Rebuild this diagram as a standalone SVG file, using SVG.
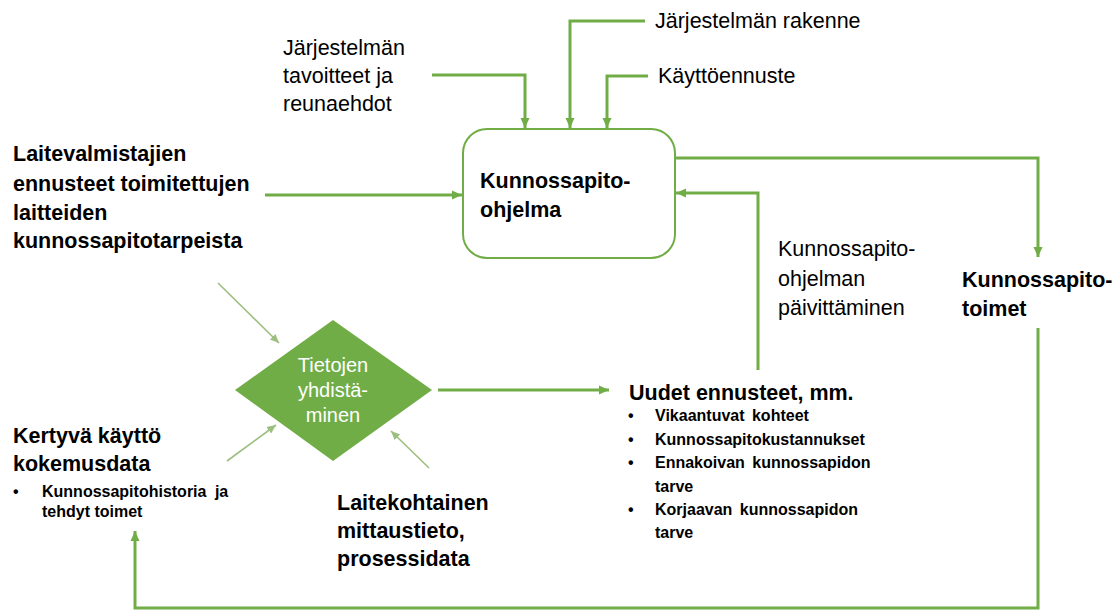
<svg xmlns="http://www.w3.org/2000/svg" width="1116" height="610" viewBox="0 0 1116 610">
<style>
text{font-family:"Liberation Sans",Arial,sans-serif;fill:#000}
.r{font-size:21.5px}
.b{font-size:21.5px;font-weight:bold}
.s{font-size:16px;font-weight:bold}
.w{font-size:20px;fill:#fff}
.main{fill:none;stroke:#70AD47;stroke-width:3}
.thin{fill:none;stroke:#9CBF80;stroke-width:1.6}
</style>
<defs>
<marker id="ah" markerUnits="userSpaceOnUse" markerWidth="12" markerHeight="12" viewBox="0 0 12 12" refX="10" refY="6" orient="auto">
<path d="M0,1.5 L10,6 L0,10.5 Z" fill="#70AD47"/>
</marker>
<marker id="ahs" markerUnits="userSpaceOnUse" markerWidth="10" markerHeight="10" viewBox="0 0 10 10" refX="9" refY="5" orient="auto">
<path d="M0,1 L9,5 L0,9 Z" fill="#9CBF80"/>
</marker>
</defs>
<rect width="1116" height="610" fill="#fff"/>
<g id="connectors">
<path class="main" d="M432,75 H525 V128" marker-end="url(#ah)"/>
<path class="main" d="M645,21 H570 V128" marker-end="url(#ah)"/>
<path class="main" d="M648,76 H607 V128" marker-end="url(#ah)"/>
<path class="main" d="M265,195 H462" marker-end="url(#ah)"/>
<path class="main" d="M675,158 H1038 V257" marker-end="url(#ah)"/>
<path class="main" d="M758,370 V193 H676" marker-end="url(#ah)"/>
<path class="main" d="M1038,328 V608 H135 V531" marker-end="url(#ah)"/>
<path class="main" d="M438,390 H609" marker-end="url(#ah)"/>
<path class="thin" d="M218,283 L279,343" marker-end="url(#ahs)"/>
<path class="thin" d="M227,461 L276,425" marker-end="url(#ahs)"/>
<path class="thin" d="M429,468 L391,431" marker-end="url(#ahs)"/>
</g>
<g id="rakenne"><text class="r" x="655" y="28">Järjestelmän rakenne</text></g>
<g id="kayttoennuste"><text class="r" x="658" y="83">Käyttöennuste</text></g>
<g id="tavoitteet">
<text class="r" x="283" y="55">Järjestelmän</text>
<text class="r" x="283" y="83">tavoitteet ja</text>
<text class="r" x="283" y="111">reunaehdot</text>
</g>
<g id="laitevalmistajat">
<text class="b" x="13" y="161">Laitevalmistajien</text>
<text class="b" x="13" y="191">ennusteet toimitettujen</text>
<text class="b" x="13" y="220">laitteiden</text>
<text class="b" x="13" y="248">kunnossapitotarpeista</text>
</g>
<g id="ohjelma">
<rect x="463" y="129" width="212" height="129" rx="24" fill="#fff" stroke="#70AD47" stroke-width="2"/>
<text class="b" x="480" y="188">Kunnossapito-</text>
<text class="b" x="480" y="217">ohjelma</text>
</g>
<g id="paivittaminen">
<text class="r" x="778" y="256">Kunnossapito-</text>
<text class="r" x="778" y="286">ohjelman</text>
<text class="r" x="778" y="315">päivittäminen</text>
</g>
<g id="toimet">
<text class="b" x="962" y="287">Kunnossapito-</text>
<text class="b" x="962" y="316">toimet</text>
</g>
<g id="yhdistaminen">
<polygon points="333,320 432,390 333,461 235,390" fill="#70AD47"/>
<text class="w" x="333" y="372" text-anchor="middle">Tietojen</text>
<text class="w" x="333" y="397" text-anchor="middle">yhdistä-</text>
<text class="w" x="333" y="422" text-anchor="middle">minen</text>
</g>
<g id="uudet">
<text class="b" x="629" y="400">Uudet ennusteet, mm.</text>
<text class="s" x="628" y="421">•</text><text class="s" x="655" y="421" word-spacing="3">Vikaantuvat kohteet</text>
<text class="s" x="628" y="445">•</text><text class="s" x="655" y="445">Kunnossapitokustannukset</text>
<text class="s" x="628" y="468">•</text><text class="s" x="655" y="468" word-spacing="3">Ennakoivan kunnossapidon</text>
<text class="s" x="655" y="492">tarve</text>
<text class="s" x="628" y="515">•</text><text class="s" x="655" y="515" word-spacing="3">Korjaavan kunnossapidon</text>
<text class="s" x="655" y="538">tarve</text>
</g>
<g id="kertyva">
<text class="b" x="13" y="443">Kertyvä käyttö</text>
<text class="b" x="13" y="471">kokemusdata</text>
<text class="s" x="13" y="497">•</text><text class="s" x="42" y="497" word-spacing="4">Kunnossapitohistoria ja</text>
<text class="s" x="42" y="517">tehdyt toimet</text>
</g>
<g id="mittaustieto">
<text class="b" x="337" y="510">Laitekohtainen</text>
<text class="b" x="337" y="538">mittaustieto,</text>
<text class="b" x="337" y="566">prosessidata</text>
</g>
</svg>
